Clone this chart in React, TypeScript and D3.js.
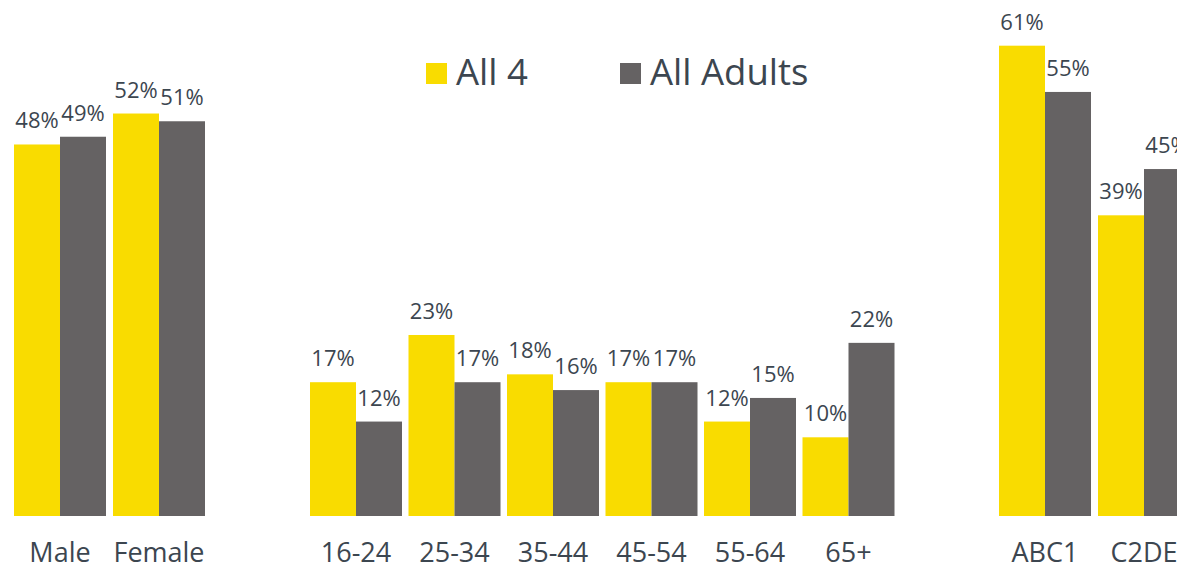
import React from "react";
import * as d3 from "d3";

const seriesKeys = ["All 4", "All Adults"];
const seriesColors = ["#F9DC00", "#656263"];

const genderCats = ["Male", "Female"];
const genderAll4 = [48, 52];
const genderAdults = [49, 51];

const ageCats = ["16-24", "25-34", "35-44", "45-54", "55-64", "65+"];
const ageAll4 = [17, 23, 18, 17, 12, 10];
const ageAdults = [12, 17, 16, 17, 15, 22];

const classCats = ["ABC1", "C2DE"];
const classAll4 = [61, 39];
const classAdults = [55, 45];

const W = 1177;
const H = 566;
const BASE = 516;
const TEXT = "#3c4650";
const FONT = "'Open Sans', 'Noto Sans', sans-serif";

type PanelProps = {
  cats: string[];
  a: number[];
  b: number[];
  x0: number;
  step: number;
  pxPerPct: number;
};

function Panel({ cats, a, b, x0, step, pxPerPct }: PanelProps) {
  const barW = 46;
  const gap = step - 2 * barW;
  const x = d3
    .scaleBand<string>()
    .domain(cats)
    .range([x0, x0 + cats.length * step - gap])
    .paddingInner(gap / step)
    .paddingOuter(0);
  const xs = d3.scaleBand<string>().domain(seriesKeys).range([0, x.bandwidth()]);
  const y = d3.scaleLinear().domain([0, 100]).range([BASE, BASE - 100 * pxPerPct]);
  const vals = [a, b];
  return (
    <g>
      {cats.map((c, i) => (
        <g key={c}>
          {seriesKeys.map((k, si) => {
            const v = vals[si][i];
            const bx = (x(c) as number) + (xs(k) as number);
            return (
              <g key={k}>
                <rect x={bx} y={y(v)} width={xs.bandwidth()} height={y(0) - y(v)} fill={seriesColors[si]} />
                <text
                  x={bx + xs.bandwidth() / 2}
                  y={y(v) - 16}
                  textAnchor="middle"
                  fontSize={22}
                  fill={TEXT}
                  fontFamily={FONT}
                >
                  {v}%
                </text>
              </g>
            );
          })}
          <text
            x={(x(c) as number) + x.bandwidth() / 2}
            y={562}
            textAnchor="middle"
            fontSize={27}
            fill={TEXT}
            fontFamily={FONT}
          >
            {c}
          </text>
        </g>
      ))}
    </g>
  );
}

export default function App() {
  const legendX = [426, 620];
  return (
    <svg
      width={W}
      height={H}
      style={{ position: "absolute", left: 0, top: 0, background: "#fff" }}
    >
      <Panel cats={genderCats} a={genderAll4} b={genderAdults} x0={14} step={99} pxPerPct={7.74} />
      <Panel cats={ageCats} a={ageAll4} b={ageAdults} x0={310} step={98.5} pxPerPct={7.87} />
      <Panel cats={classCats} a={classAll4} b={classAdults} x0={999} step={99} pxPerPct={7.71} />
      {seriesKeys.map((k, i) => (
        <g key={k}>
          <rect x={legendX[i]} y={63} width={21} height={21} fill={seriesColors[i]} />
          <text x={legendX[i] + 30} y={85} fontSize={36.5} fill={TEXT} fontFamily={FONT}>
            {k}
          </text>
        </g>
      ))}
    </svg>
  );
}
